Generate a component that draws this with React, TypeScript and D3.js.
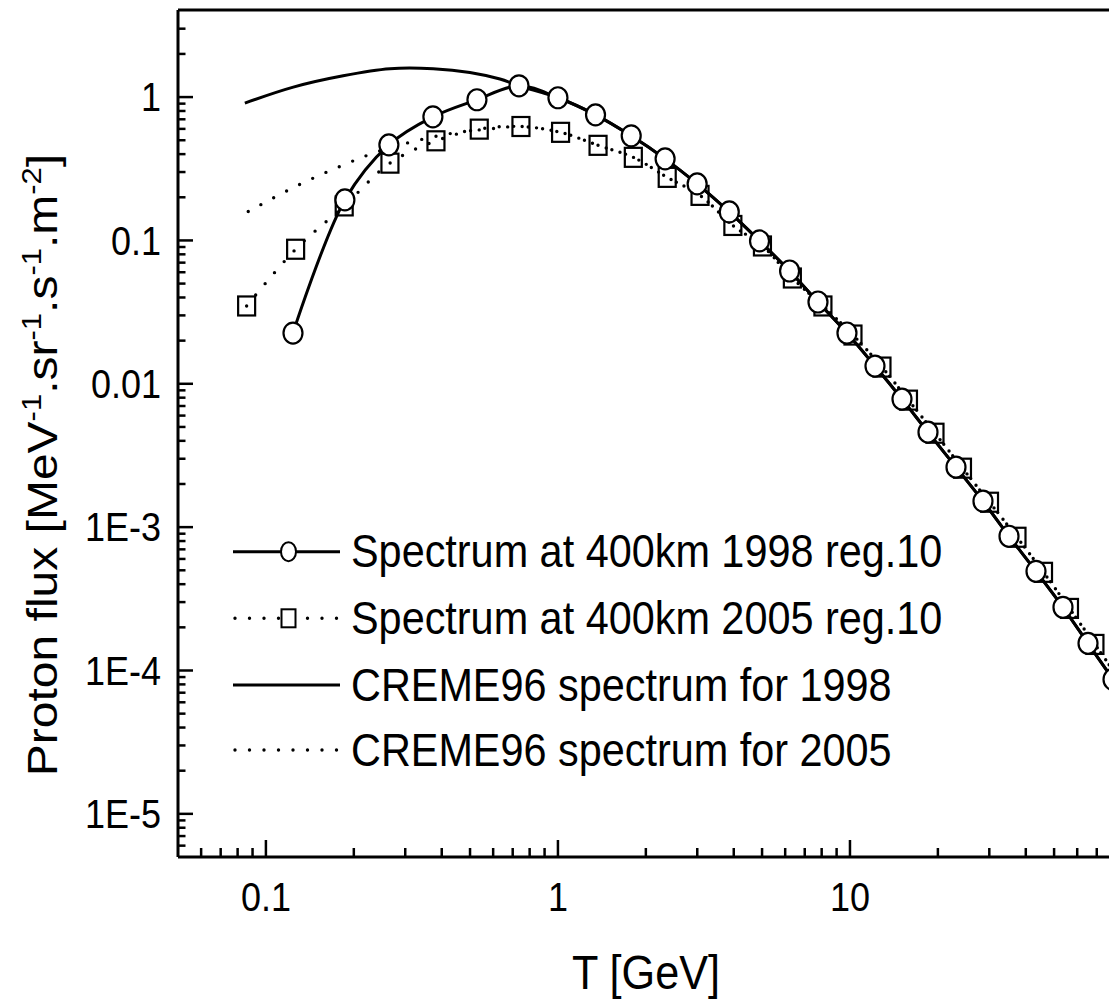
import React from 'react';
import * as d3 from 'd3';

// ---- data ----
const energy1998 = [0.1238, 0.1864, 0.2637, 0.3731, 0.528, 0.7355, 1.0, 1.345, 1.782, 2.328, 2.997, 3.861, 4.901, 6.212, 7.771, 9.766, 12.18, 15.07, 18.5, 23.07, 28.54, 35.04, 43.35, 53.63, 65.33, 79.57];
const flux1998 = [0.02259, 0.1918, 0.4645, 0.7286, 0.9577, 1.199, 0.989, 0.752, 0.537, 0.3708, 0.248, 0.158, 0.0992, 0.0612, 0.0372, 0.0226, 0.01329, 0.00782, 0.0046, 0.00262, 0.001517, 8.64e-4, 4.92e-4, 2.76e-4, 1.546e-4, 8.67e-5];

const energy2005 = [0.0859, 0.1264, 0.1854, 0.2659, 0.3822, 0.5377, 0.747, 1.021, 1.372, 1.812, 2.367, 3.066, 3.972, 5.015, 6.349, 8.08, 10.24, 12.87, 15.86, 19.55, 24.28, 30.05, 37.32, 46.0, 56.45, 69.0, 84.1];
const flux2005 = [0.0349, 0.0868, 0.1741, 0.346, 0.4954, 0.5976, 0.6234, 0.5677, 0.4607, 0.3799, 0.2754, 0.2062, 0.1272, 0.0915, 0.0547, 0.0349, 0.02188, 0.01308, 0.00769, 0.00452, 0.002578, 0.001492, 8.5e-4, 4.84e-4, 2.71e-4, 1.52e-4, 8.53e-5];

const cremeEnergy1998 = [0.0847, 0.1241, 0.1839, 0.2659, 0.374, 0.4995, 0.633, 0.7355, 1.0, 1.345, 1.782, 2.328, 2.997, 3.861, 4.901, 6.212, 7.771, 9.766, 12.18, 15.07, 18.5, 23.07, 28.54, 35.04, 43.35, 53.63, 65.33, 79.57];
const cremeFlux1998 = [0.908, 1.174, 1.408, 1.576, 1.576, 1.485, 1.336, 1.199, 0.989, 0.752, 0.537, 0.3708, 0.248, 0.158, 0.0992, 0.0612, 0.0372, 0.0226, 0.01329, 0.00782, 0.0046, 0.00262, 0.001517, 8.64e-4, 4.92e-4, 2.76e-4, 1.546e-4, 8.67e-5];

const cremeEnergy2005 = [0.087, 0.1241, 0.1768, 0.2522, 0.4046, 0.585, 0.747, 1.021, 1.372, 1.812, 2.367, 3.066, 3.972, 5.015, 6.349, 8.08, 10.24, 12.87, 15.86, 19.55, 24.28, 30.05, 37.32, 46.0, 56.45, 69.0, 84.1];
const cremeFlux2005 = [0.159, 0.2337, 0.3245, 0.4285, 0.5454, 0.6006, 0.6234, 0.5677, 0.4607, 0.3799, 0.2754, 0.2062, 0.1272, 0.0915, 0.0547, 0.0349, 0.02188, 0.01308, 0.00769, 0.00452, 0.002578, 0.001492, 8.5e-4, 4.84e-4, 2.71e-4, 1.52e-4, 8.53e-5];

const xTickValues = [0.1, 1, 10];
const xTickLabels = ['0.1', '1', '10'];
const yTickValues = [1, 0.1, 0.01, 1e-3, 1e-4, 1e-5];
const yTickLabels = ['1', '0.1', '0.01', '1E-3', '1E-4', '1E-5'];
const legendLabels = [
  'Spectrum at 400km 1998 reg.10',
  'Spectrum at 400km 2005 reg.10',
  'CREME96 spectrum for 1998',
  'CREME96 spectrum for 2005',
];

const W = 1109;
const H = 1000;
const FONT = 'Liberation Sans, Arial, sans-serif';
const SQ = 0.9; // horizontal squeeze of glyphs

export default function App() {
  const x = d3.scaleLog().domain([0.05, 100]).range([178, 1142]);
  const y = d3.scaleLog().domain([5e-6, 4.05]).range([857, 10]);
  const left = x(0.05);
  const right = x(100);
  const top = y(4.05);
  const bottom = y(5e-6);

  const line = d3
    .line<[number, number]>()
    .x((d) => x(d[0]))
    .y((d) => y(d[1]))
    .curve(d3.curveCatmullRom.alpha(0.5));

  const zip = (a: number[], b: number[]) => a.map((v, i) => [v, b[i]] as [number, number]);
  const s1998 = zip(energy1998, flux1998);
  const s2005 = zip(energy2005, flux2005);
  const c1998 = zip(cremeEnergy1998, cremeFlux1998);
  const c2005 = zip(cremeEnergy2005, cremeFlux2005);

  const xMinor: number[] = [];
  for (let e = -2; e <= 1; e++) for (let m = 2; m <= 9; m++) {
    const v = m * Math.pow(10, e);
    if (v > 0.05 && v < 100) xMinor.push(v);
  }
  const yMinor: number[] = [];
  for (let e = -6; e <= 0; e++) for (let m = 2; m <= 9; m++) {
    const v = m * Math.pow(10, e);
    if (v > 5e-6 && v < 3.5) yMinor.push(v);
  }

  const dotted = { strokeDasharray: '0 14.5', strokeLinecap: 'round' as const, strokeWidth: 3.4 };

  const legendRows = [551.7, 618.3, 685, 750];
  const lx0 = 233;
  const lx1 = 340;
  const lmx = 288.5;

  return (
    <svg width={W} height={H} style={{ position: 'absolute', left: 0, top: 0, background: '#fff' }} fontFamily={FONT}>
      <rect x={0} y={0} width={W} height={H} fill="#fff" />
      <path d={line(c2005) || ''} fill="none" stroke="#000" {...dotted} />
      <path d={line(c1998) || ''} fill="none" stroke="#000" strokeWidth={3} />
      <path d={line(s2005) || ''} fill="none" stroke="#000" {...dotted} />
      <path d={line(s1998) || ''} fill="none" stroke="#000" strokeWidth={3} />
      {s2005.map((d, i) => (
        <rect key={'sq' + i} x={x(d[0]) - 8.5} y={y(d[1]) - 9.5} width={17} height={19} fill="none" stroke="#000" strokeWidth={2.2} />
      ))}
      {s1998.map((d, i) => (
        <ellipse key={'ci' + i} cx={x(d[0])} cy={y(d[1])} rx={9.5} ry={10.5} fill="#fff" stroke="#000" strokeWidth={2.2} />
      ))}

      <line x1={left} x2={right} y1={top} y2={top} stroke="#000" strokeWidth={3} />
      <line x1={left} x2={left} y1={top} y2={bottom} stroke="#000" strokeWidth={3} />
      <line x1={left} x2={right} y1={bottom} y2={bottom} stroke="#000" strokeWidth={3} />

      {xTickValues.map((v, i) => (
        <g key={'xt' + i}>
          <line x1={x(v)} x2={x(v)} y1={bottom} y2={bottom - 17} stroke="#000" strokeWidth={2.5} />
          <g transform={`translate(${x(v)},${911}) scale(${SQ},1)`}>
            <text textAnchor="middle" fontSize={40}>{xTickLabels[i]}</text>
          </g>
        </g>
      ))}
      {xMinor.map((v, i) => (
        <line key={'xm' + i} x1={x(v)} x2={x(v)} y1={bottom} y2={bottom - 9} stroke="#000" strokeWidth={2.5} />
      ))}

      {yTickValues.map((v, i) => (
        <g key={'yt' + i}>
          <line x1={left} x2={left + 15} y1={y(v)} y2={y(v)} stroke="#000" strokeWidth={2.5} />
          <g transform={`translate(${161},${y(v) + 14.3}) scale(${SQ},1)`}>
            <text textAnchor="end" fontSize={40}>{yTickLabels[i]}</text>
          </g>
        </g>
      ))}
      {yMinor.map((v, i) => (
        <line key={'ym' + i} x1={left} x2={left + 7.5} y1={y(v)} y2={y(v)} stroke="#000" strokeWidth={2.5} />
      ))}

      <g transform={`translate(646,989) scale(${SQ},1)`}>
        <text textAnchor="middle" fontSize={48}>T [GeV]</text>
      </g>
      <g transform={`translate(57,465) rotate(-90) scale(1,${SQ})`}>
        <text textAnchor="middle" fontSize={48}>
          Proton flux [MeV
          <tspan fontSize={31} dy={-18}>-1</tspan>
          <tspan dy={18}>.sr</tspan>
          <tspan fontSize={31} dy={-18}>-1</tspan>
          <tspan dy={18}>.s</tspan>
          <tspan fontSize={31} dy={-18}>-1</tspan>
          <tspan dy={18}>.m</tspan>
          <tspan fontSize={31} dy={-18}>-2</tspan>
          <tspan dy={18}>]</tspan>
        </text>
      </g>

      {legendLabels.map((lab, i) => {
        const ly = legendRows[i];
        const isDotted = i === 1 || i === 3;
        return (
          <g key={'lg' + i}>
            {isDotted ? (
              <line x1={lx0 + 2} x2={lx1} y1={ly} y2={ly} stroke="#000" {...dotted} />
            ) : (
              <line x1={lx0} x2={lx1} y1={ly} y2={ly} stroke="#000" strokeWidth={3} />
            )}
            {i === 0 && <ellipse cx={lmx} cy={ly} rx={7.5} ry={9.5} fill="#fff" stroke="#000" strokeWidth={2} />}
            {i === 1 && <rect x={lmx - 7} y={ly - 9} width={14} height={18} fill="#fff" stroke="#000" strokeWidth={2} />}
            <g transform={`translate(351,${ly + 15.5}) scale(${SQ},1)`}>
              <text fontSize={46}>{lab}</text>
            </g>
          </g>
        );
      })}
    </svg>
  );
}
